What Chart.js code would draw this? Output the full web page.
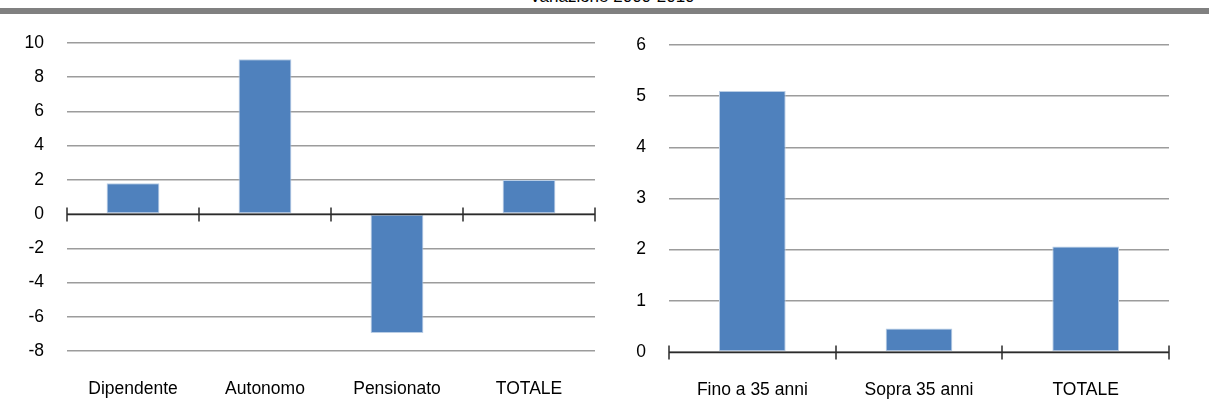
<!DOCTYPE html>
<html lang="it">
<head>
<meta charset="UTF-8">
<title>Variazione 2000-2010</title>
<script src="https://cdn.jsdelivr.net/npm/chart.js"></script>
<style>
    body { margin: 0; background: #fff; width: 1209px; height: 412px; overflow: hidden; position: relative; }
    .title {
        position: absolute; top: -12px; left: 0; width: 1224px; text-align: center;
        font: 17px 'Liberation Sans', Arial, sans-serif; line-height: 17px; color: #000;
    }
    .rule { position: absolute; top: 8px; left: 0; width: 1209px; height: 6px; background: #808080; }
    .box { position: absolute; top: 0; height: 412px; }
    #leftBox { left: 0; width: 600px; }
    #rightBox { left: 600px; width: 609px; }
</style>
</head>
<body>
<div class="title">Variazione 2000-2010</div>
<div class="rule"></div>
<div class="box" id="leftBox"><canvas id="leftChart"></canvas></div>
<div class="box" id="rightBox"><canvas id="rightChart"></canvas></div>

<script>
// Variazione per condizione professionale
const profLabels = ['Dipendente', 'Autonomo', 'Pensionato', 'TOTALE'];
const profValues = [1.8, 9.05, -6.95, 2.0];
const profTicks = [-8, -6, -4, -2, 0, 2, 4, 6, 8, 10];

// Variazione per classe di età
const ageLabels = ['Fino a 35 anni', 'Sopra 35 anni', 'TOTALE'];
const ageValues = [5.1, 0.46, 2.06];
const ageTicks = [0, 1, 2, 3, 4, 5, 6];

const FONT = { family: "'Liberation Sans', Arial, sans-serif", size: 17.5 };
const BAR_BLUE = '#4f81bd';

// zero line with small ticks at the category boundaries
const zeroAxis = {
    id: 'zeroAxis',
    afterDatasetsDraw(chart) {
        const x = chart.scales.x, y = chart.scales.y;
        const ctx = chart.ctx;
        const y0 = Math.round(y.getPixelForValue(0)) + 0.5;
        const n = chart.data.labels.length;
        ctx.save();
        ctx.strokeStyle = '#2b2b2b';
        ctx.lineWidth = 1.5;
        ctx.beginPath();
        ctx.moveTo(x.left, y0);
        ctx.lineTo(x.right, y0);
        for (let i = 0; i <= n; i++) {
            const px = Math.round(x.getPixelForValue(i - 0.5));
            ctx.moveTo(px, y0 - 7);
            ctx.lineTo(px, y0 + 7);
        }
        ctx.stroke();
        ctx.restore();
    }
};

function makeChart(id, labels, values, ticks, sizes) {
    return new Chart(document.getElementById(id), {
        type: 'bar',
        data: {
            labels: labels,
            datasets: [{
                data: values,
                backgroundColor: BAR_BLUE,
                borderColor: '#b9cde5',
                borderWidth: 1,
                borderSkipped: false,
                barPercentage: 0.4,
                categoryPercentage: 1
            }]
        },
        options: {
            responsive: true,
            maintainAspectRatio: false,
            animation: false,
            layout: { padding: { top: sizes.top, right: sizes.right, left: 0, bottom: 0 } },
            plugins: { legend: { display: false }, tooltip: { enabled: false } },
            scales: {
                x: {
                    grid: { display: false },
                    border: { display: false },
                    ticks: { color: '#000', font: FONT, padding: 20, maxRotation: 0 },
                    afterFit(scale) { scale.height = sizes.xHeight; }
                },
                y: {
                    min: ticks[0],
                    max: ticks[ticks.length - 1],
                    afterBuildTicks(scale) { scale.ticks = ticks.map(v => ({ value: v })); },
                    grid: { color: '#9c9c9c', lineWidth: 1.5, drawTicks: false },
                    border: { display: false },
                    ticks: { color: '#000', font: FONT, padding: 23 },
                    afterFit(scale) { scale.width = sizes.yWidth; }
                }
            }
        },
        plugins: [zeroAxis]
    });
}

makeChart('leftChart', profLabels, profValues, profTicks,
    { top: 43, right: 5, xHeight: 61, yWidth: 67 });
makeChart('rightChart', ageLabels, ageValues, ageTicks,
    { top: 45, right: 40, xHeight: 60, yWidth: 69 });
</script>
</body>
</html>
